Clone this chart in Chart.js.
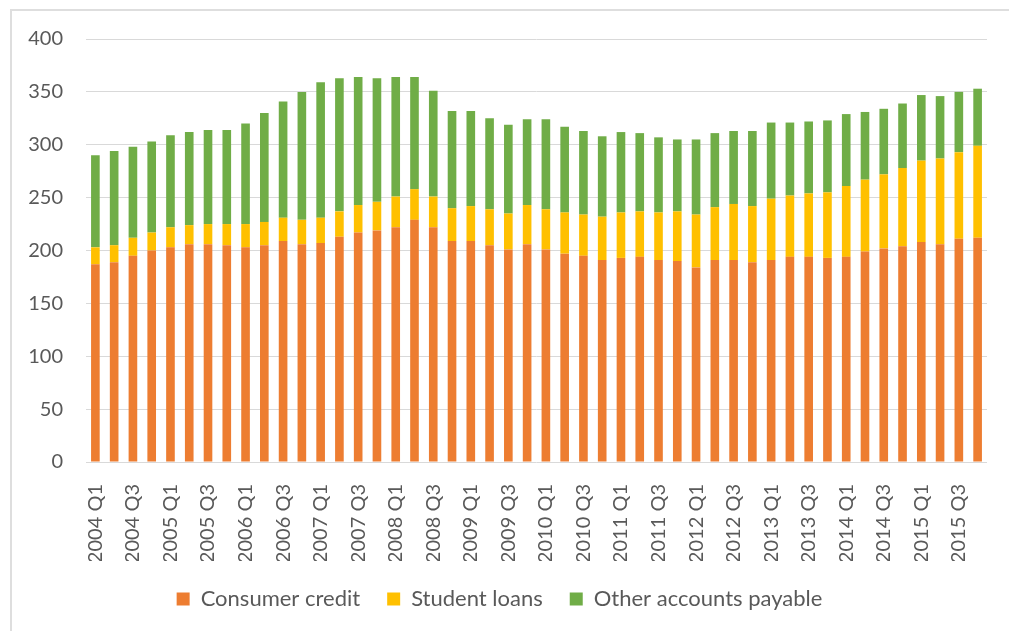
<!DOCTYPE html>
<html lang="en">
  <head>
    <meta charset="UTF-8" />
    <title>Household credit by quarter</title>
    <script src="https://cdn.jsdelivr.net/npm/chart.js"></script>
    <style>
      html, body { margin: 0; padding: 0; background: #fff; }
      #wrap { position: absolute; left: 0; top: 0; width: 1009px; height: 631px; }
      #frame {
        position: absolute; left: 10px; top: 9px; width: 1020px; height: 660px;
        border-left: 2px solid #dedede; border-top: 2px solid #dedede;
      }
    </style>
  </head>
  <body>
    <div id="frame"></div>
    <div id="wrap"><canvas id="debtChart"></canvas></div>

    <script>
      // quarters 2004 Q1 .. 2015 Q4
      const years = [2004, 2005, 2006, 2007, 2008, 2009, 2010, 2011, 2012, 2013, 2014, 2015];
      const quarters = [];
      years.forEach(y => ['Q1', 'Q2', 'Q3', 'Q4'].forEach(q => quarters.push(y + ' ' + q)));

      const consumerCredit = [
        187, 189, 195, 200, 203, 206, 206, 205, 203, 205, 209, 206,
        207, 213, 217, 219, 222, 229, 222, 209, 209, 205, 201, 206,
        201, 197, 195, 191, 193, 194, 191, 190, 184, 191, 191, 189,
        191, 194, 194, 193, 194, 199, 202, 204, 208, 206, 211, 212
      ];
      const studentLoans = [
        16, 16, 17, 17, 19, 18, 19, 20, 22, 22, 22, 23,
        24, 24, 26, 27, 29, 29, 29, 31, 33, 34, 34, 37,
        38, 39, 39, 41, 43, 43, 45, 47, 50, 50, 53, 53,
        58, 58, 60, 62, 67, 68, 70, 74, 77, 81, 82, 87
      ];
      const otherPayable = [
        87, 89, 86, 86, 87, 88, 89, 89, 95, 103, 110, 121,
        128, 126, 121, 117, 113, 106, 100, 92, 90, 86, 84, 81,
        85, 81, 79, 76, 76, 74, 71, 68, 71, 70, 69, 71,
        72, 69, 68, 68, 68, 64, 62, 61, 62, 59, 57, 54
      ];
      const yTicks = [0, 50, 100, 150, 200, 250, 300, 350, 400];

      const textColor = '#595959';
      const font = { family: 'Lato', size: 20 };

      // drop the automatic edge padding the scales ask for, layout.padding decides instead
      function noEdgePadding(scale) {
        scale.paddingLeft = 0;
        scale.paddingRight = 0;
        scale.paddingTop = 0;
        scale.paddingBottom = 0;
      }

      new Chart(document.getElementById('debtChart'), {
        type: 'bar',
        data: {
          labels: quarters,
          datasets: [
            { label: 'Consumer credit', data: consumerCredit, backgroundColor: '#ED7D31' },
            { label: 'Student loans', data: studentLoans, backgroundColor: '#FFC000' },
            { label: 'Other accounts payable', data: otherPayable, backgroundColor: '#70AD47' }
          ]
        },
        options: {
          responsive: true,
          maintainAspectRatio: false,
          animation: false,
          datasets: { bar: { barPercentage: 0.46, categoryPercentage: 1 } },
          layout: { padding: { left: 12, top: 39, right: 22, bottom: 11 } },
          plugins: {
            tooltip: { enabled: false },
            legend: {
              position: 'bottom',
              labels: { color: textColor, font: { family: 'Lato', size: 22 }, boxWidth: 13, boxHeight: 13, padding: 27 }
            }
          },
          scales: {
            x: {
              stacked: true,
              grid: { display: false },
              border: { display: false },
              ticks: {
                color: textColor, font: font, padding: 14,
                autoSkip: false, minRotation: 90, maxRotation: 90,
                callback: (v, i) => (i % 2 === 0 ? quarters[i] : '')
              },
              afterFit: scale => { scale.height = 99; noEdgePadding(scale); }
            },
            y: {
              stacked: true,
              min: 0,
              max: 400,
              afterBuildTicks: scale => { scale.ticks = yTicks.map(v => ({ value: v })); },
              grid: { color: '#d9d9d9', drawTicks: false },
              border: { display: false },
              ticks: { color: textColor, font: font, padding: 23 },
              afterFit: scale => { scale.width = 74; noEdgePadding(scale); }
            }
          }
        }
      });
    </script>
  </body>
</html>
